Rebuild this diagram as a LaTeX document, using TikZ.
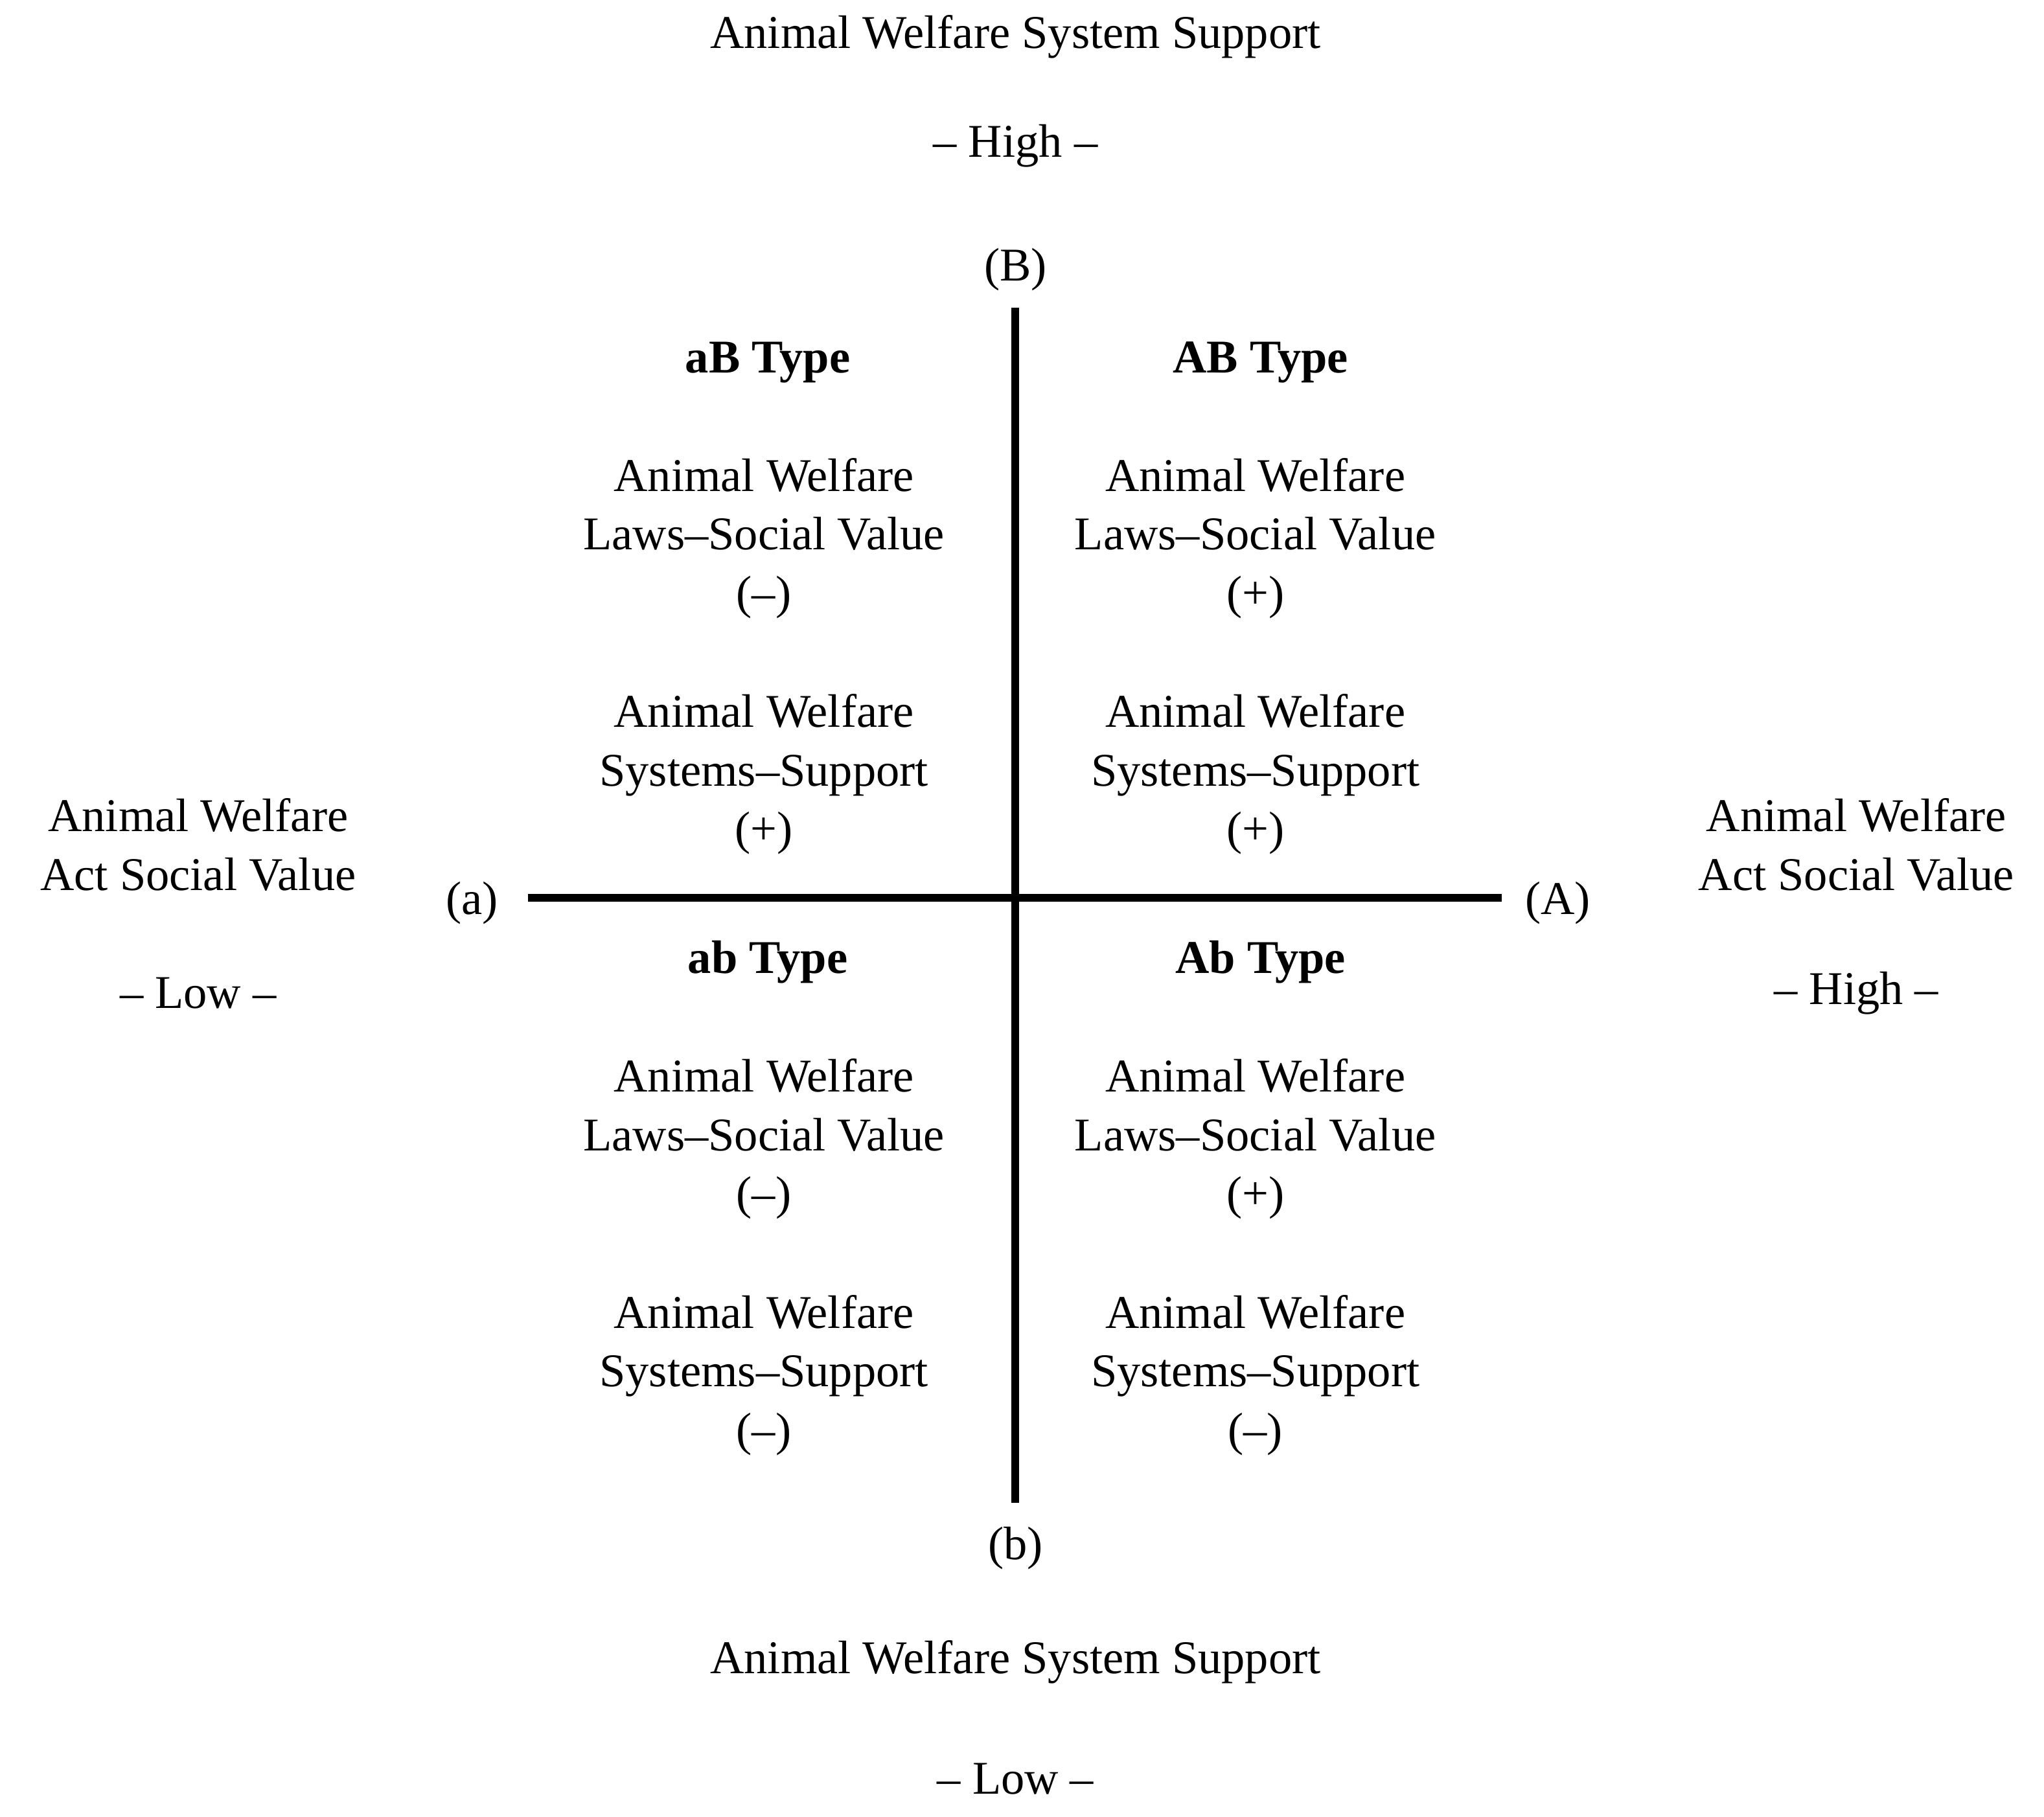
\documentclass[tikz,border=0pt]{standalone}
\usepackage{fontspec}
\setmainfont{Liberation Serif}
\begin{document}
\begin{tikzpicture}[x=0.02cm,y=-0.02cm,
  txt/.style={align=center,inner sep=0pt,font=\fontsize{20.5pt}{25.6pt}\selectfont},
  ttl/.style={txt,font=\fontsize{20.5pt}{25.6pt}\selectfont\bfseries},
  axis/.style={line width=0.12cm}]
\useasboundingbox (0,0) rectangle (1568,1394);
\node[txt] (tt) at (779,28) {Animal Welfare System Support};
\node[txt] (th) at (779,112) {– High –};
\node[txt] (B) at (779,207) {(B)};
\node[txt] (b) at (779,1188) {(b)};
\node[txt] (a) at (362,693) {(a)};
\node[txt] (A) at (1195,693) {(A)};
\node[txt] (bt) at (779,1275) {Animal Welfare System Support};
\node[txt] (bl) at (779,1365) {– Low –};
\node[txt] (lt) at (152,648) {Animal Welfare\\Act Social Value};
\node[txt] (ll) at (152,762) {– Low –};
\node[txt] (rt) at (1424,648) {Animal Welfare\\Act Social Value};
\node[txt] (rh) at (1424,762) {– High –};
\coordinate (vt) at (779,236); \coordinate (vb) at (779,1153);
\coordinate (hl) at (405,689); \coordinate (hr) at (1152,689);
\draw[axis] (vt) -- (vb);
\draw[axis] (hl) -- (hr);
\node[ttl] (aB) at (589,278) {aB Type};
\node[ttl] (AB) at (967,278) {AB Type};
\node[ttl] (ab) at (589,738) {ab Type};
\node[ttl] (Ab) at (967,738) {Ab Type};
\node[txt] (aB1) at (586,413) {Animal Welfare\\Laws–Social Value\\(–)};
\node[txt] (aB2) at (586,594) {Animal Welfare\\Systems–Support\\(+)};
\node[txt] (AB1) at (963,413) {Animal Welfare\\Laws–Social Value\\(+)};
\node[txt] (AB2) at (963,594) {Animal Welfare\\Systems–Support\\(+)};
\node[txt] (ab1) at (586,874) {Animal Welfare\\Laws–Social Value\\(–)};
\node[txt] (ab2) at (586,1055) {Animal Welfare\\Systems–Support\\(–)};
\node[txt] (Ab1) at (963,874) {Animal Welfare\\Laws–Social Value\\(+)};
\node[txt] (Ab2) at (963,1055) {Animal Welfare\\Systems–Support\\(–)};
\end{tikzpicture}
\end{document}
